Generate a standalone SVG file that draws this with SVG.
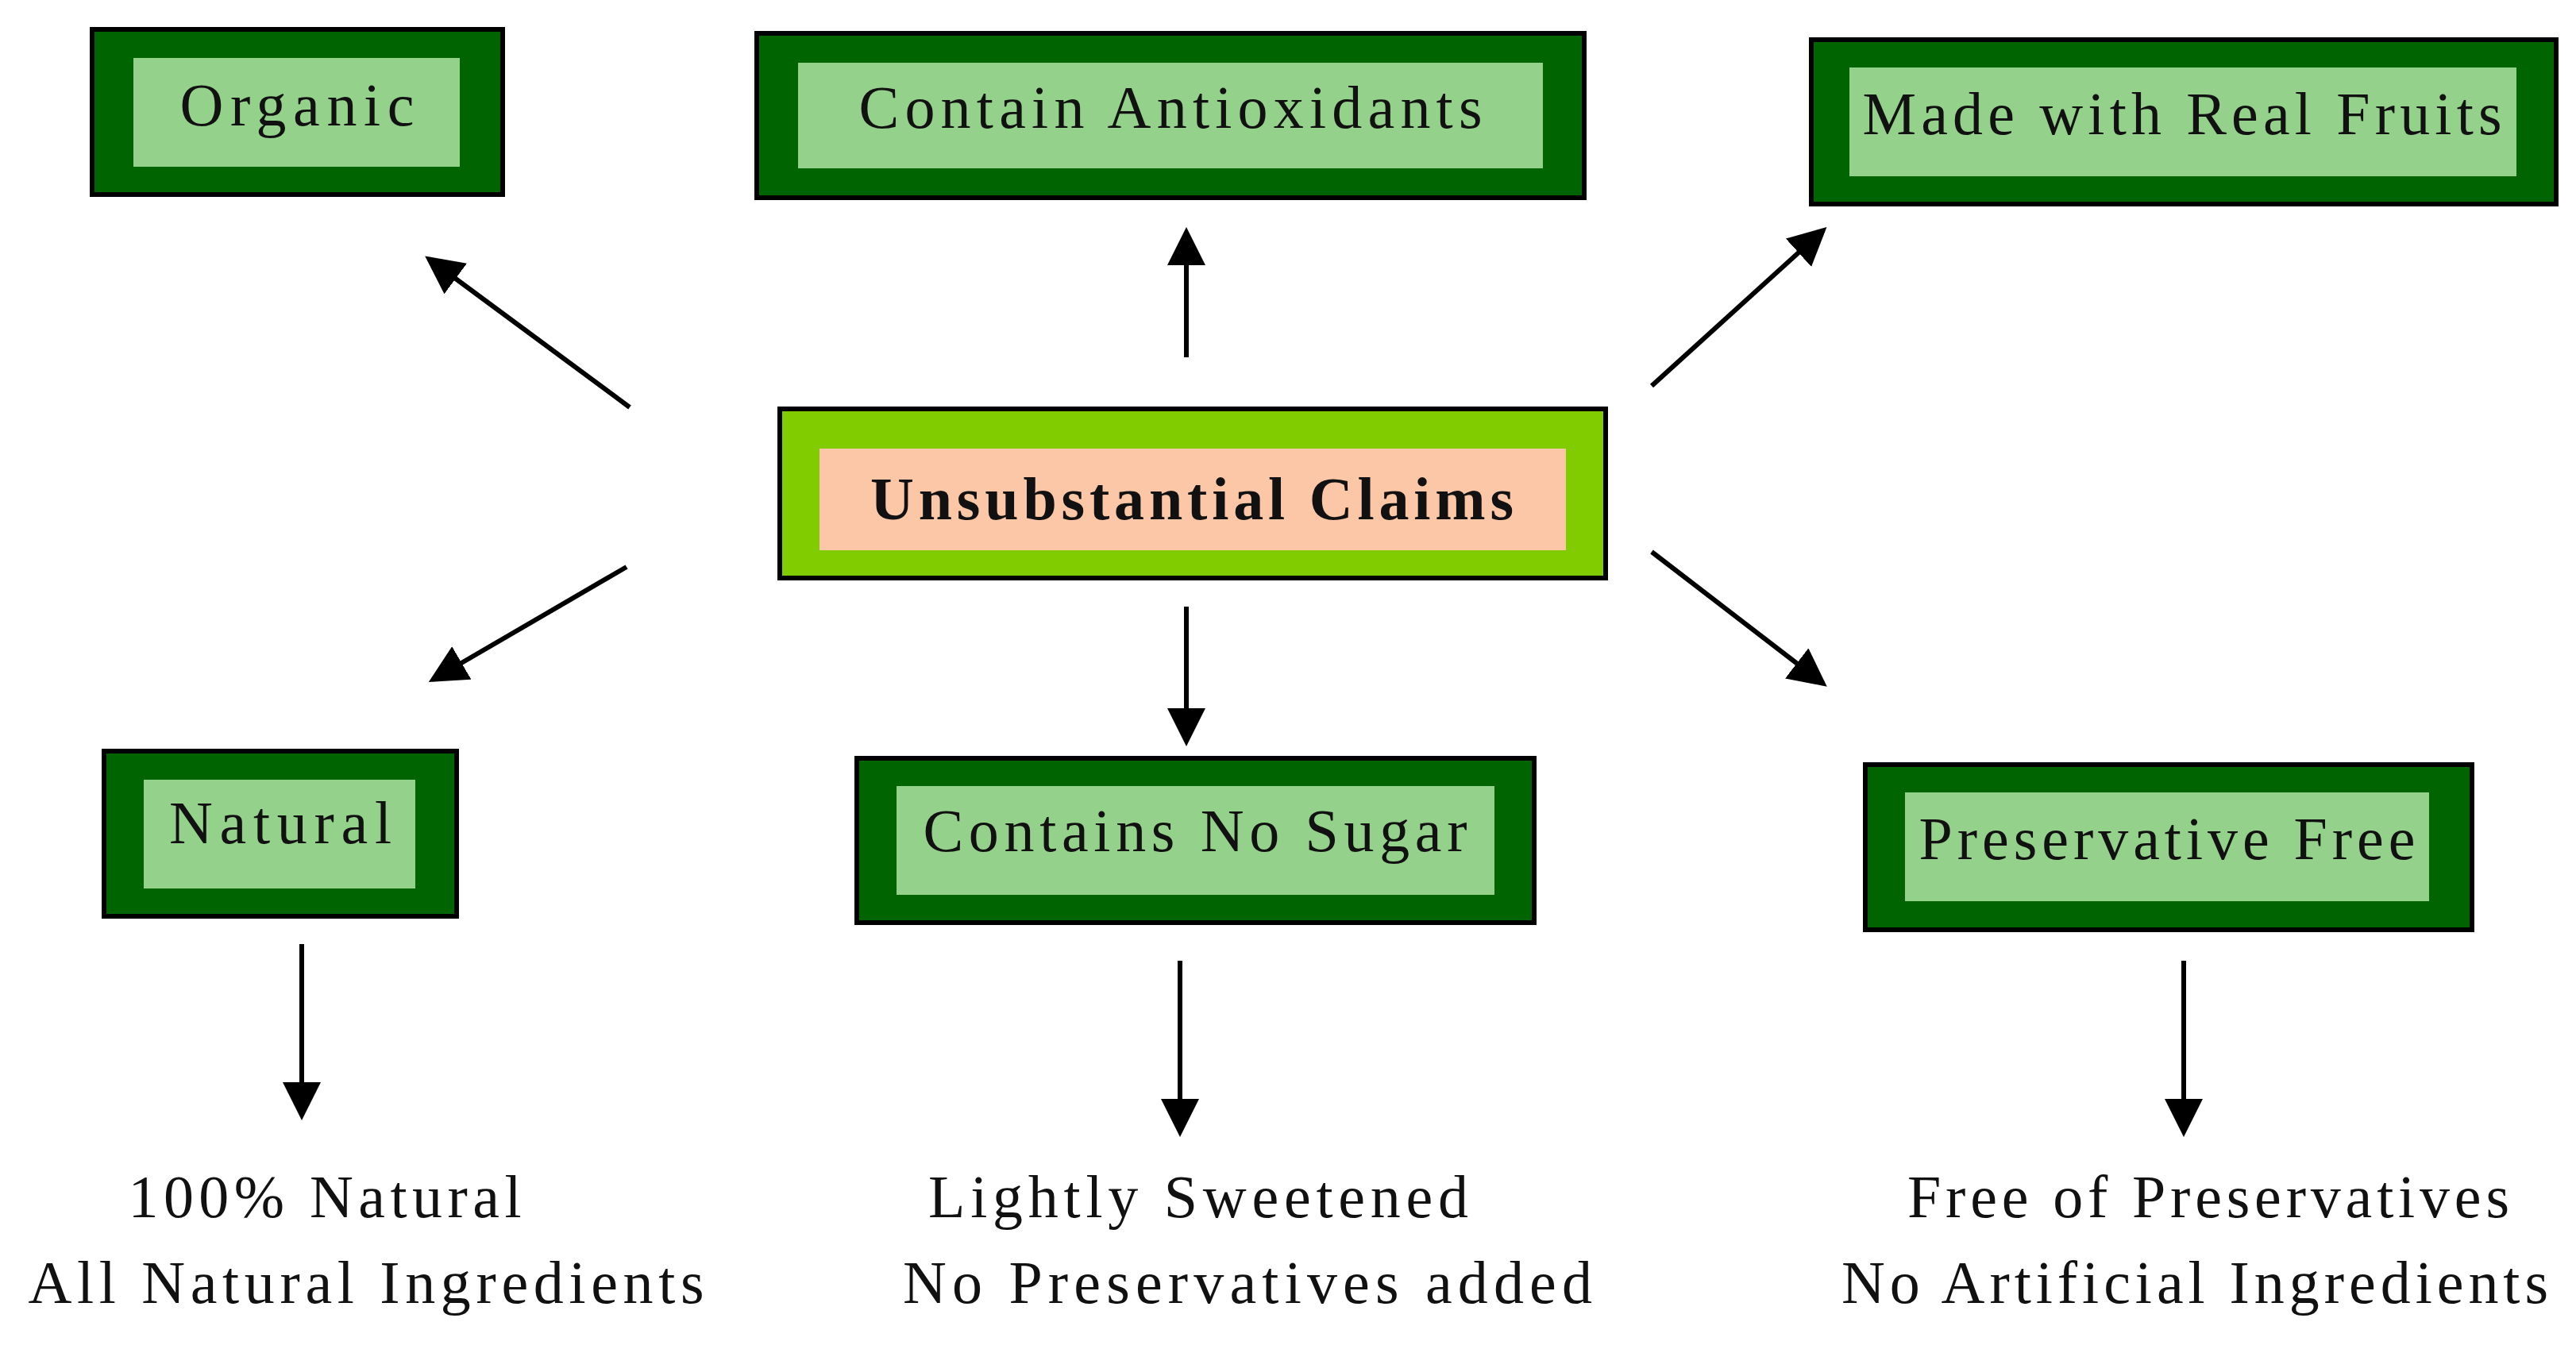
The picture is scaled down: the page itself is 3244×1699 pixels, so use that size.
<svg xmlns="http://www.w3.org/2000/svg" width="3244" height="1699" viewBox="0 0 3244 1699">
<defs>
<style>
.o{fill:#006400;stroke:#000;stroke-width:6}
.i{fill:#94d18a}
.c{fill:#80cc00;stroke:#000;stroke-width:6}
.ci{fill:#fbc7a6}
text{font-family:"Liberation Serif","DejaVu Serif",serif;font-size:76px;fill:#111;text-anchor:middle}
.b{font-weight:bold}
.a{stroke:#000;stroke-width:6;fill:none;marker-end:url(#h)}
</style>
<marker id="h" markerWidth="8" markerHeight="8" refX="7" refY="4" orient="auto" markerUnits="strokeWidth"><path d="M0,0 L8,4 L0,8 z" fill="#000"/></marker>
</defs>
<rect width="3244" height="1699" fill="#fff"/>
<g id="organic"><rect class="o" x="116" y="37" width="517" height="208"/><rect class="i" x="168" y="73" width="411" height="137"/><text x="374" y="158" textLength="295">Organic</text></g>
<g id="antioxidants"><rect class="o" x="953" y="42" width="1042" height="207"/><rect class="i" x="1005" y="79" width="938" height="133"/><text x="1474" y="161" textLength="785">Contain Antioxidants</text></g>
<g id="fruits"><rect class="o" x="2281" y="50" width="938" height="207"/><rect class="i" x="2329" y="85" width="840" height="137"/><text x="2748" y="169" textLength="805">Made with Real Fruits</text></g>
<g id="center"><rect class="c" x="982" y="515" width="1040" height="213"/><rect class="ci" x="1032" y="565" width="940" height="128"/><text class="b" x="1501" y="654" textLength="810">Unsubstantial Claims</text></g>
<g id="natural"><rect class="o" x="131" y="946" width="444" height="208"/><rect class="i" x="181" y="982" width="342" height="137"/><text x="353" y="1062" textLength="280">Natural</text></g>
<g id="nosugar"><rect class="o" x="1079" y="955" width="853" height="207"/><rect class="i" x="1129" y="990" width="753" height="137"/><text x="1505" y="1072" textLength="685">Contains No Sugar</text></g>
<g id="presfree"><rect class="o" x="2349" y="963" width="764" height="208"/><rect class="i" x="2399" y="998" width="660" height="137"/><text x="2729" y="1082" textLength="625">Preservative Free</text></g>
<g id="connectors">
<line class="a" x1="793" y1="513" x2="540" y2="326"/>
<line class="a" x1="1494" y1="450" x2="1494" y2="292"/>
<line class="a" x1="2080" y1="486" x2="2296" y2="290"/>
<line class="a" x1="789" y1="714" x2="545" y2="856"/>
<line class="a" x1="1494" y1="764" x2="1494" y2="934"/>
<line class="a" x1="2080" y1="695" x2="2296" y2="861"/>
<line class="a" x1="380" y1="1189" x2="380" y2="1405"/>
<line class="a" x1="1486" y1="1210" x2="1486" y2="1426"/>
<line class="a" x1="2750" y1="1210" x2="2750" y2="1426"/>
</g>
<g id="labels">
<text x="409" y="1533" textLength="495">100% Natural</text>
<text x="461" y="1641" textLength="851">All Natural Ingredients</text>
<text x="1509" y="1533" textLength="680">Lightly Sweetened</text>
<text x="1571" y="1641" textLength="868">No Preservatives added</text>
<text x="2781" y="1533" textLength="758">Free of Preservatives</text>
<text x="2764" y="1641" textLength="890">No Artificial Ingredients</text>
</g>
</svg>
